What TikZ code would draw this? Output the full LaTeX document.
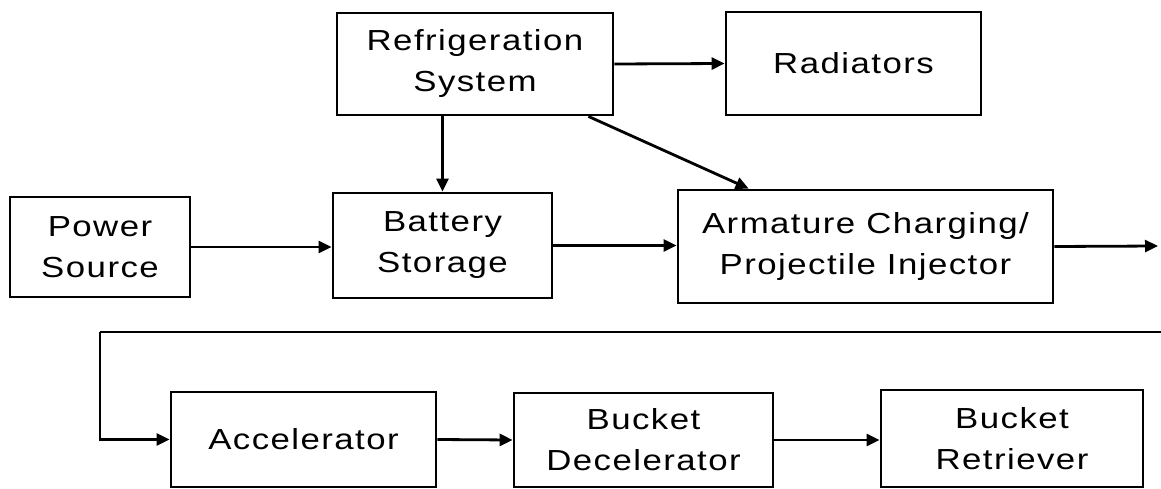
\documentclass[tikz,border=0pt]{standalone}
\usepackage{fontspec}
\setmainfont{Liberation Sans}[FakeStretch=1.2, LetterSpace=5]
\usepackage{tikz}
\usetikzlibrary{
  arrows.meta,
  calc,
  positioning
}

\begin{document}
\begin{tikzpicture}[x=1pt, y=-1pt,
  font=\fontsize{29}{41}\selectfont,
  blockbox/.style={draw, line width=2.8pt, align=center, inner sep=0pt},
  flow/.style={line width=2.8pt, -{Triangle[length=13pt, width=12pt]}},
  plain/.style={line width=2.8pt}]
  \useasboundingbox (0,0) rectangle (1161,489);
  % top row
  \node[blockbox, minimum width=276, minimum height=102] (refrig) at (475,64) {Refrigeration\\System};
  \node[blockbox, minimum width=255, minimum height=103] (rad) at (853.5,63.5) {Radiators};
  % middle row
  \node[blockbox, minimum width=180, minimum height=100] (power) at (100,247) {Power\\Source};
  \node[blockbox, minimum width=219, minimum height=105] (batt) at (442.5,245.5) {Battery\\Storage};
  \node[blockbox, minimum width=375, minimum height=113] (arm) at (865.5,246.5) {Armature Charging/\\Projectile Injector};
  % bottom row
  \node[blockbox, minimum width=265, minimum height=95] (accel) at (303.5,439.5) {Accelerator};
  \node[blockbox, minimum width=259, minimum height=94] (decel) at (643.5,440) {Bucket\\Decelerator};
  \node[blockbox, minimum width=262, minimum height=97] (retr) at (1012,438.5) {Bucket\\Retriever};
  % free ends
  \coordinate (out) at (1158,246);
  \coordinate (back) at (1161,332);
  \coordinate (turn) at (100,332);
  % connectors
  \draw[flow] (refrig.east) -- (rad.west);
  \draw[flow] (refrig.south -| batt.north) -- (batt.north);
  \draw[flow] ($(refrig.south east)+(-26,0)$) -- ($(arm.north west)+(72,0)$);
  \draw[flow] (power.east) -- (power.east -| batt.west);
  \draw[flow] (batt.east) -- (batt.east -| arm.west);
  \draw[flow] (arm.east) -- (out);
  \draw[plain] (back) -- (turn);
  \draw[flow] (turn) |- (accel.west);
  \draw[flow] (accel.east) -- (decel.west);
  \draw[flow] (decel.east) -- (decel.east -| retr.west);
\end{tikzpicture}
\end{document}
